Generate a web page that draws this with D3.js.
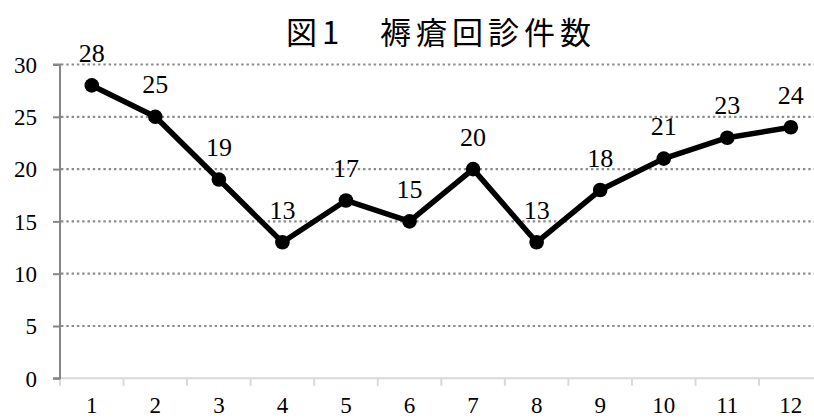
<!DOCTYPE html>
<html>
<head>
<meta charset="utf-8">
<script src="https://cdn.jsdelivr.net/npm/d3@7/dist/d3.min.js"></script>
<style>
  html, body { margin: 0; padding: 0; background: #fff; }
  svg { display: block; }
  .num { font-family: "Liberation Serif", "DejaVu Serif", serif; }
  .ttl { font-family: "Noto Sans CJK JP", sans-serif; }
</style>
</head>
<body>
<svg id="chart" width="814" height="419"></svg>
<script>
// Monthly pressure-ulcer round counts
const titleText = "図1　褥瘡回診件数";
const months = ["1", "2", "3", "4", "5", "6", "7", "8", "9", "10", "11", "12"];
const counts = [28, 25, 19, 13, 17, 15, 20, 13, 18, 21, 23, 24];
const yTicks = [0, 5, 10, 15, 20, 25, 30];

(function () {
  const svg = d3.select("#chart");
  const width = 814;
  const plotLeft = 60, plotRight = 822.6, plotTop = 64.5, plotBottom = 378.3;

  const x = d3.scaleBand().domain(months).range([plotLeft, plotRight]).paddingInner(0).paddingOuter(0);
  const y = d3.scaleLinear().domain([0, 30]).range([plotBottom, plotTop]);

  // Title
  svg.append("text")
    .attr("class", "ttl")
    .attr("x", 441)
    .attr("y", 44)
    .attr("text-anchor", "middle")
    .attr("font-size", 31)
    .attr("font-weight", 400)
    .attr("letter-spacing", 5)
    .attr("fill", "#000")
    .text(titleText);

  // Horizontal dotted gridlines
  svg.append("g")
    .selectAll("line")
    .data(yTicks.filter(d => d > 0))
    .join("line")
    .attr("x1", plotLeft + 1)
    .attr("x2", width)
    .attr("y1", d => y(d))
    .attr("y2", d => y(d))
    .attr("stroke", "#8c8c8c")
    .attr("stroke-width", 2.2)
    .attr("stroke-dasharray", "2.4,2.9");

  // X axis (category boundaries as ticks)
  const xAxisG = svg.append("g").attr("transform", `translate(0,${plotBottom})`);
  xAxisG.append("line")
    .attr("x1", plotLeft).attr("x2", width)
    .attr("y1", 0).attr("y2", 0)
    .attr("stroke", "#d9d9d9").attr("stroke-width", 2);
  xAxisG.selectAll("line.tick")
    .data(months)
    .join("line")
    .attr("class", "tick")
    .attr("x1", d => x(d)).attr("x2", d => x(d))
    .attr("y1", 0).attr("y2", 7.5)
    .attr("stroke", "#d9d9d9").attr("stroke-width", 2);
  xAxisG.selectAll("text")
    .data(months)
    .join("text")
    .attr("class", "num")
    .attr("x", d => x(d) + x.bandwidth() / 2)
    .attr("y", 35)
    .attr("text-anchor", "middle")
    .attr("font-size", 23)
    .attr("fill", "#000")
    .text(d => d);

  // Y axis
  const yAxis = d3.axisLeft(y).tickValues(yTicks).tickSize(7).tickPadding(16);
  const yAxisG = svg.append("g").attr("transform", `translate(${plotLeft},0)`).call(yAxis);
  yAxisG.attr("font-family", null).attr("font-size", null);
  yAxisG.select(".domain").attr("stroke", "#868686").attr("stroke-width", 2)
    .attr("d", `M-7,${plotTop}H0V${plotBottom}H-7`);
  yAxisG.selectAll(".tick line").attr("stroke", "#868686").attr("stroke-width", 2);
  yAxisG.selectAll(".tick text")
    .attr("class", "num")
    .attr("font-size", 23)
    .attr("fill", "#000")
    .attr("dy", "0.34em");

  // Data line
  const cx = (d, i) => x(months[i]) + x.bandwidth() / 2;
  const line = d3.line().x(cx).y(d => y(d));
  svg.append("path")
    .datum(counts)
    .attr("d", line)
    .attr("fill", "none")
    .attr("stroke", "#000")
    .attr("stroke-width", 5.5)
    .attr("stroke-linejoin", "round");

  // Markers
  svg.append("g")
    .selectAll("circle")
    .data(counts)
    .join("circle")
    .attr("cx", cx)
    .attr("cy", d => y(d))
    .attr("r", 7.3)
    .attr("fill", "#000");

  // Value labels
  svg.append("g")
    .selectAll("text")
    .data(counts)
    .join("text")
    .attr("class", "num")
    .attr("x", cx)
    .attr("y", d => y(d) - 23.5)
    .attr("text-anchor", "middle")
    .attr("font-size", 26)
    .attr("fill", "#000")
    .text(d => d);
})();
</script>
</body>
</html>
